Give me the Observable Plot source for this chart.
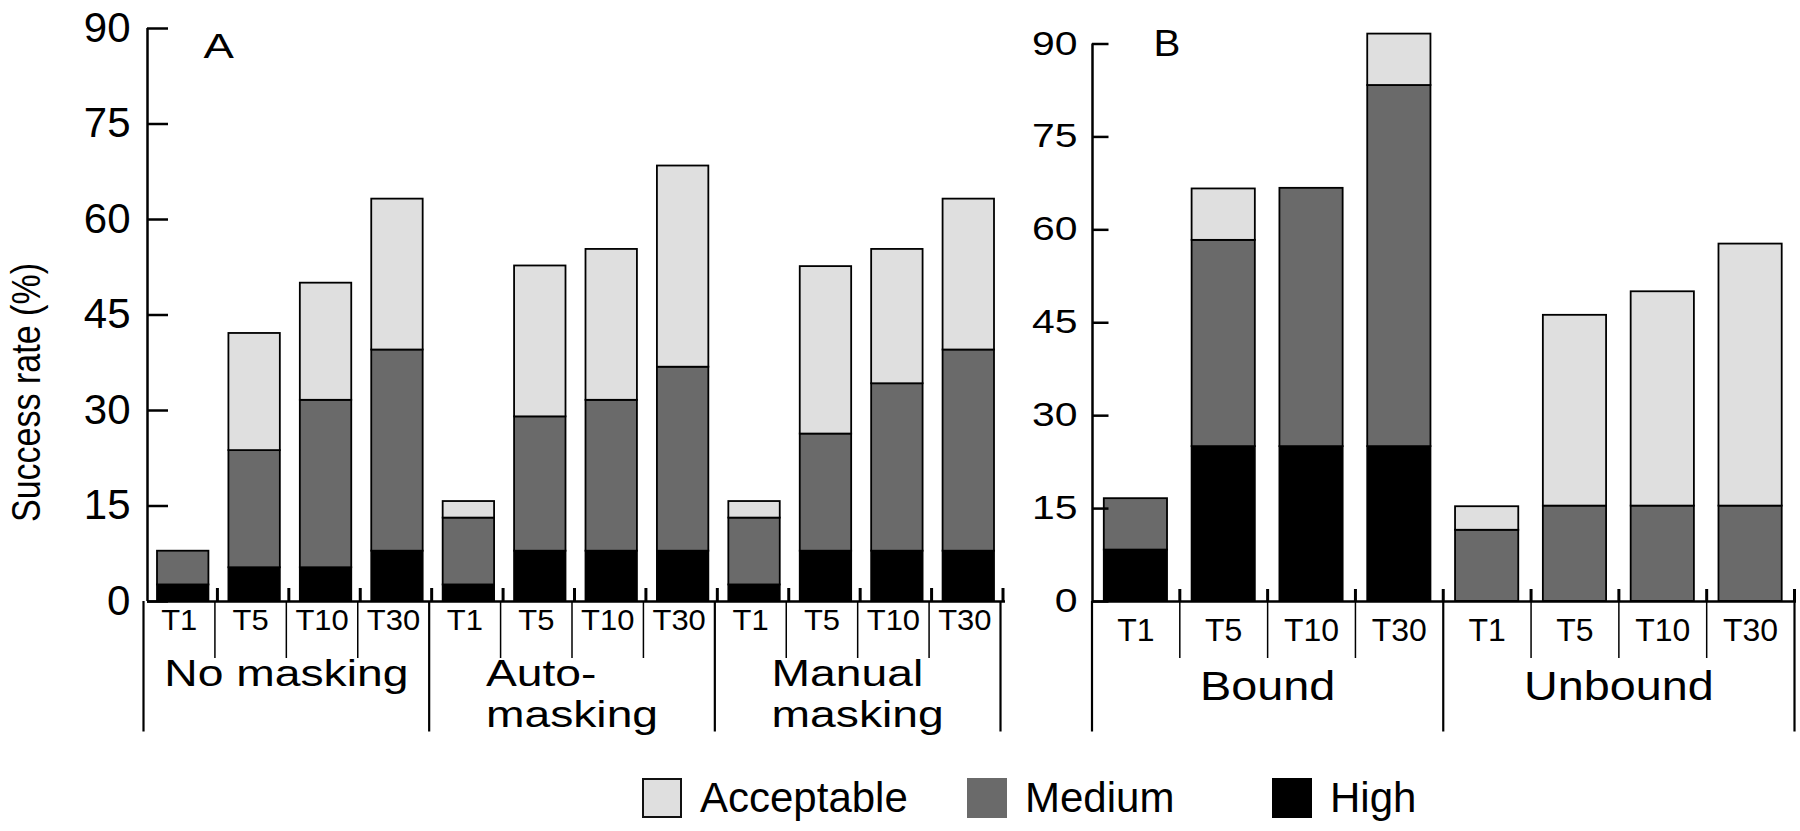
<!DOCTYPE html>
<html>
<head>
<meta charset="utf-8">
<script src="https://cdn.jsdelivr.net/npm/d3@7"></script>
<script src="https://cdn.jsdelivr.net/npm/@observablehq/plot@0.6"></script>
<style>
  html, body { margin: 0; padding: 0; background: #fff; }
  #wrap { position: relative; width: 1800px; height: 831px; font-family: "Liberation Sans", Arial, sans-serif; }
  #panelA { position: absolute; left: 0; top: 0; }
  #panelB { position: absolute; left: 1012px; top: 0; }
  #legend { position: absolute; left: 0; top: 760px; width: 1800px; height: 71px; }
  .item { position: absolute; top: 18px; height: 40px; display: flex; align-items: center; }
  .sw { width: 40px; height: 40px; box-sizing: border-box; }
  .lbl { margin-left: 18px; font-size: 42px; line-height: 40px; color: #000; }
</style>
</head>
<body>
<div id="wrap">
  <div id="panelA"></div>
  <div id="panelB"></div>
  <div id="legend"></div>
</div>
<script>
// ---------------- data ----------------
const levels = ["Acceptable", "Medium", "High"];
const levelColors = ["#dfdfdf", "#6a6a6a", "#000000"];
const stackOrder = ["High", "Medium", "Acceptable"];
const timePoints = ["T1", "T5", "T10", "T30"];
const yTicks = [0, 15, 30, 45, 60, 75, 90];

// Panel A
const groupsA = ["No masking", "Auto-\nmasking", "Manual\nmasking"];
const highA       = [2.6, 5.3, 5.3, 7.9,   2.6, 7.9, 7.9, 7.9,   2.6, 7.9, 7.9, 7.9];
const mediumA     = [5.3, 18.4, 26.3, 31.6, 10.5, 21.1, 23.7, 28.9, 10.5, 18.4, 26.3, 31.6];
const acceptableA = [0, 18.4, 18.4, 23.7,  2.6, 23.7, 23.7, 31.6,  2.6, 26.3, 21.1, 23.7];

// Panel B
const groupsB = ["Bound", "Unbound"];
const highB       = [8.3, 25, 25, 25,     0, 0, 0, 0];
const mediumB     = [8.3, 33.3, 41.7, 58.3, 11.5, 15.4, 15.4, 15.4];
const acceptableB = [0, 8.3, 0, 8.3,      3.8, 30.8, 34.6, 42.3];

const yTitle = "Success rate (%)";

// ---------------- helpers ----------------
const FONT = '"Liberation Sans", Arial, sans-serif';
const ctx = document.createElement("canvas").getContext("2d");
function textWidth(str, size) {
  ctx.font = `${size}px ${FONT}`;
  return ctx.measureText(str).width;
}
function buildKeys(groups) {
  return groups.flatMap(g => timePoints.map(t => g + "|" + t));
}
function longData(groups, high, medium, acceptable) {
  const keys = buildKeys(groups);
  const rows = [];
  keys.forEach((k, i) => {
    const vals = {High: high[i], Medium: medium[i], Acceptable: acceptable[i]};
    stackOrder.forEach(l => { if (vals[l] > 0) rows.push({key: k, level: l, value: vals[l]}); });
  });
  return rows;
}
// widen / narrow glyphs of a text group (the reference's lettering is stretched)
function stretch(svg, label, factor) {
  svg.querySelectorAll(`text[aria-label="${label}"], g[aria-label="${label}"] text`).forEach(t => {
    const w = t.getComputedTextLength();
    if (w > 0) {
      t.setAttribute("textLength", (w * factor).toFixed(1));
      t.setAttribute("lengthAdjust", "spacingAndGlyphs");
    }
  });
}
const tag = name => () => name;

function panel(cfg) {
  const keys = buildKeys(cfg.groups);
  const data = longData(cfg.groups, cfg.high, cfg.medium, cfg.acceptable);
  const step = (cfg.range[1] - cfg.range[0]) / keys.length;
  const frameH = cfg.height - cfg.marginTop - cfg.marginBottom;
  const frameW = cfg.width - cfg.marginLeft - cfg.marginRight;
  const groupStartKeys = cfg.groups.map(g => g + "|" + timePoints[0]);
  const innerKeys = keys.filter(k => !groupStartKeys.includes(k));
  const lastKey = keys[keys.length - 1];

  const marks = [
    Plot.barY(data, {
      x: "key", y: "value", fill: "level", order: stackOrder,
      stroke: "#000", strokeWidth: 1.8, dx: cfg.barDx
    }),
    Plot.ruleY([0], {strokeWidth: 2.5}),
    Plot.ruleX([keys[0]], {x: d => d, dx: -step / 2 + cfg.axisDx, strokeWidth: 2.5}),
    Plot.ruleY(yTicks, {y: d => d, insetRight: frameW - cfg.tickLen, strokeWidth: 2.5}),
    Plot.text(yTicks, {
      y: d => d, text: d => String(d), frameAnchor: "left", textAnchor: "end",
      lineAnchor: "middle", dx: -cfg.tickPad, fontSize: cfg.tickFont, ariaLabel: tag("ticklabels")
    }),
    // short upward ticks on the baseline
    Plot.ruleX(keys.slice(1), {x: d => d, dx: -step / 2 + cfg.minorDx, insetTop: frameH - cfg.minorLen, strokeWidth: 3}),
    Plot.ruleX([lastKey], {x: d => d, dx: step / 2 + cfg.minorDx, insetTop: frameH - cfg.minorLen, strokeWidth: 3}),
    // separators below the axis
    Plot.ruleX(innerKeys, {x: d => d, dx: -step / 2, insetTop: frameH, insetBottom: -cfg.innerSepLen, strokeWidth: 1.5}),
    Plot.ruleX(groupStartKeys, {x: d => d, dx: -step / 2, insetTop: frameH, insetBottom: -cfg.groupSepLen, strokeWidth: 2.2}),
    Plot.ruleX([lastKey], {x: d => d, dx: step / 2, insetTop: frameH, insetBottom: -cfg.groupSepLen, strokeWidth: 2.2}),
    // time labels
    Plot.text(keys, {
      x: d => d, text: d => d.split("|")[1], frameAnchor: "bottom", lineAnchor: "middle",
      dy: cfg.tDy, fontSize: cfg.tFont, ariaLabel: tag("timelabels")
    }),
    // panel letter
    Plot.text([cfg.letter], {
      frameAnchor: "top-left", textAnchor: "start", lineAnchor: "top",
      dx: cfg.letterDx, dy: cfg.letterDy, fontSize: cfg.letterFont, ariaLabel: tag("letter")
    })
  ];
  // group labels: each line its own text, block left-aligned and centred on the group
  cfg.groups.forEach(g => {
    const lines = g.split("\n");
    const blockW = Math.max(...lines.map(s => textWidth(s, cfg.groupFont))) * cfg.groupStretch;
    lines.forEach((line, j) => {
      marks.push(Plot.text([g + "|" + timePoints[1]], {
        x: d => d, text: () => line, frameAnchor: "bottom", lineAnchor: "top",
        textAnchor: "start", dx: step / 2 - blockW / 2, dy: cfg.groupDy + j * cfg.groupLine,
        fontSize: cfg.groupFont, ariaLabel: tag("grouplabels")
      }));
    });
  });
  if (cfg.yTitle) {
    marks.push(Plot.text([cfg.yTitle], {
      frameAnchor: "left", rotate: -90, textAnchor: "middle", lineAnchor: "middle",
      dx: cfg.titleDx, dy: cfg.titleDy, fontSize: cfg.titleFont, ariaLabel: tag("ytitle")
    }));
  }

  return Plot.plot({
    width: cfg.width, height: cfg.height,
    marginTop: cfg.marginTop, marginBottom: cfg.marginBottom,
    marginLeft: cfg.marginLeft, marginRight: cfg.marginRight,
    style: {fontFamily: FONT, background: "white", overflow: "visible", color: "#000"},
    x: {type: "band", domain: keys, range: cfg.range, paddingInner: 0.28, paddingOuter: 0.14, round: false, axis: null},
    y: {domain: [0, 90], axis: null},
    color: {domain: levels, range: levelColors},
    marks
  });
}

const cfgA = {
  groups: groupsA, high: highA, medium: mediumA, acceptable: acceptableA,
  width: 1012, height: 760, marginTop: 28, marginBottom: 159, marginLeft: 147, marginRight: 7,
  range: [143, 1000], barDx: 4, axisDx: 4,
  tickLen: 21, tickPad: 17, tickFont: 42, tickStretch: 1.0,
  minorDx: 2.5, minorLen: 13, innerSepLen: 57, groupSepLen: 130.5,
  tDy: 19, tFont: 30, tStretch: 1.03,
  groupFont: 37, groupDy: 58, groupLine: 41.5, groupStretch: 1.25,
  letter: "A", letterDx: 56, letterDy: 5, letterFont: 35, letterStretch: 1.3,
  yTitle: yTitle, titleDx: -121, titleDy: 77.5, titleFont: 41, titleStretch: 0.83
};
const cfgB = {
  groups: groupsB, high: highB, medium: mediumB, acceptable: acceptableB,
  width: 788, height: 760, marginTop: 43.5, marginBottom: 159, marginLeft: 80, marginRight: 4,
  range: [79.5, 782], barDx: 0, axisDx: 0.5,
  tickLen: 16.5, tickPad: 15, tickFont: 33, tickStretch: 1.24,
  minorDx: 0, minorLen: 12, innerSepLen: 57, groupSepLen: 130.5,
  tDy: 29, tFont: 32, tStretch: 1.0,
  groupFont: 41, groupDy: 69, groupLine: 46, groupStretch: 1.14,
  letter: "B", letterDx: 61, letterDy: -14, letterFont: 36, letterStretch: 1.12
};

[[cfgA, "panelA"], [cfgB, "panelB"]].forEach(([cfg, id]) => {
  const svg = panel(cfg);
  document.getElementById(id).appendChild(svg);
  stretch(svg, "ticklabels", cfg.tickStretch);
  stretch(svg, "timelabels", cfg.tStretch);
  stretch(svg, "grouplabels", cfg.groupStretch);
  stretch(svg, "letter", cfg.letterStretch);
  if (cfg.yTitle) stretch(svg, "ytitle", cfg.titleStretch);
});

// legend
const legendLefts = [642, 967, 1272];
const legend = document.getElementById("legend");
levels.forEach((l, i) => {
  const item = document.createElement("div");
  item.className = "item";
  item.style.left = legendLefts[i] + "px";
  const sw = document.createElement("div");
  sw.className = "sw";
  sw.style.background = levelColors[i];
  if (i === 0) sw.style.border = "2px solid #111";
  const lb = document.createElement("div");
  lb.className = "lbl";
  lb.textContent = l;
  item.appendChild(sw);
  item.appendChild(lb);
  legend.appendChild(item);
});
</script>
</body>
</html>
